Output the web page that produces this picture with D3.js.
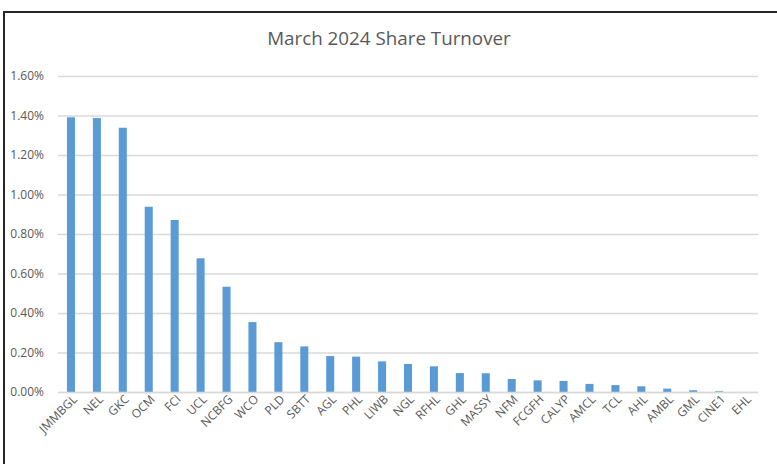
<!DOCTYPE html>
<html>
<head>
<meta charset="utf-8">
<script src="https://cdn.jsdelivr.net/npm/d3@7"></script>
<style>
  body { margin: 0; background: #fff; }
  text { font-family: "Open Sans", "Noto Sans", sans-serif; }
</style>
</head>
<body>
<div id="chart"></div>
<script>
// data
const tickers = ["JMMBGL", "NEL", "GKC", "OCM", "FCI", "UCL", "NCBFG", "WCO", "PLD", "SBTT",
  "AGL", "PHL", "LIWB", "NGL", "RFHL", "GHL", "MASSY", "NFM", "FCGFH", "CALYP",
  "AMCL", "TCL", "AHL", "AMBL", "GML", "CINE1", "EHL"];
const turnover = [1.391, 1.387, 1.338, 0.938, 0.871, 0.677, 0.533, 0.354, 0.252, 0.231,
  0.182, 0.179, 0.155, 0.142, 0.130, 0.096, 0.095, 0.066, 0.059, 0.056,
  0.041, 0.035, 0.029, 0.017, 0.009, 0.004, 0.0];
const yTicks = [0, 0.2, 0.4, 0.6, 0.8, 1.0, 1.2, 1.4, 1.6];

const W = 777, H = 464;
const margin = { top: 76, right: 19, bottom: 72, left: 58 };
const bredde = W - margin.left - margin.right;
const hoejde = H - margin.top - margin.bottom;

const svg = d3.select("#chart").append("svg")
  .attr("width", W).attr("height", H);

// ramme
svg.append("path")
  .attr("d", `M4,${H + 5}V12H${W + 5}`)
  .attr("fill", "none")
  .attr("stroke", "#262626")
  .attr("stroke-width", 2);

svg.append("text")
  .attr("x", 389).attr("y", 45)
  .attr("text-anchor", "middle")
  .attr("font-size", "18.8px")
  .attr("fill", "#595959")
  .text("March 2024 Share Turnover");

const g = svg.append("g").attr("transform", `translate(${margin.left},${margin.top})`);

const x = d3.scaleBand().domain(tickers).range([0, bredde]).paddingInner(0.69).paddingOuter(0.345);
const y = d3.scaleLinear().domain([0, 1.6]).range([hoejde, 0]);

// gitterlinjer + y labels
g.append("g")
  .call(d3.axisLeft(y).tickValues(yTicks).tickSize(-bredde).tickFormat(d => d.toFixed(2) + "%"))
  .call(a => a.select(".domain").remove())
  .call(a => a.selectAll("line").attr("stroke", "#d9d9d9").attr("stroke-width", 1.3))
  .call(a => a.selectAll("text")
    .attr("fill", "#595959")
    .attr("font-size", "12px")
    .attr("font-family", "Open Sans, sans-serif")
    .attr("x", -14)
    .style("text-anchor", "end"));

// bars
g.selectAll("rect.bar")
  .data(turnover)
  .enter().append("rect")
  .attr("class", "bar")
  .attr("x", (d, i) => x(tickers[i]))
  .attr("width", x.bandwidth())
  .attr("y", d => y(d))
  .attr("height", d => hoejde - y(d))
  .attr("fill", "#5b9bd5");

// x akse
g.append("g")
  .attr("transform", `translate(0,${hoejde})`)
  .call(d3.axisBottom(x).tickSize(0).tickPadding(0))
  .call(a => a.select(".domain").attr("stroke", "#d9d9d9").attr("stroke-width", 1.3))
  .call(a => a.selectAll("text")
    .attr("fill", "#595959")
    .attr("font-size", "12px")
    .attr("font-family", "Open Sans, sans-serif")
    .attr("dy", 0)
    .attr("transform", "translate(7,8) rotate(-45)")
    .style("text-anchor", "end"));
</script>
</body>
</html>
